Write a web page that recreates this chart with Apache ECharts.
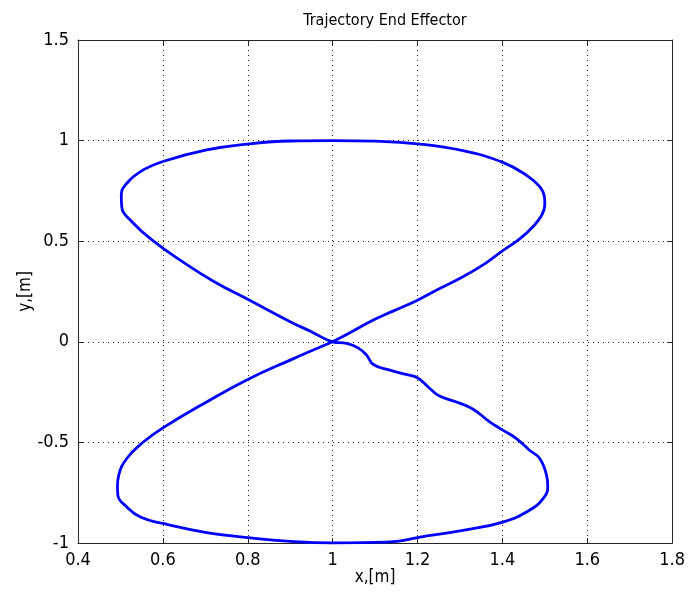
<!DOCTYPE html>
<html>
<head>
<meta charset="utf-8">
<script src="https://cdn.jsdelivr.net/npm/echarts@6/dist/echarts.min.js"></script>
<style>
  html, body { margin: 0; padding: 0; background: #fff; }
  #chart { width: 688px; height: 597px; }
</style>
</head>
<body>
<div id="chart"></div>
<script>
// end effector trajectory.
// starts at the crossing, goes up-right, over the top, down through the crossing,
// along the wavy lower-right part, under the bottom and back up to the crossing
const trajX = [
  1.0, 1.045, 1.096, 1.145, 1.2, 1.25, 1.307, 1.36, 1.401, 1.44, 1.472, 1.493, 1.5, 1.499,
  1.488, 1.456, 1.401, 1.307, 1.2, 1.1, 1.0, 0.9, 0.8, 0.703, 0.6, 0.547, 0.515, 0.502, 0.503,
  0.527, 0.578, 0.645, 0.72, 0.81, 0.9, 0.95, 1.0,
  1.033, 1.06, 1.08, 1.096, 1.135, 1.173, 1.2, 1.229, 1.252, 1.292, 1.331, 1.37, 1.401, 1.433,
  1.464, 1.488, 1.504, 1.507, 1.496, 1.464, 1.401, 1.307, 1.2, 1.151, 1.072, 1.0,
  0.9, 0.8, 0.703, 0.6, 0.547, 0.515, 0.494, 0.493, 0.496, 0.515, 0.554, 0.6, 0.703, 0.8, 0.9, 1.0
]
const trajY = [
  0.0, 0.05, 0.108, 0.155, 0.207, 0.262, 0.323, 0.39, 0.453, 0.51, 0.572, 0.63, 0.68, 0.72,
  0.771, 0.829, 0.892, 0.95, 0.984, 0.997, 1.0, 0.998, 0.983, 0.954, 0.896, 0.846, 0.788, 0.73, 0.672,
  0.597, 0.5, 0.4, 0.3, 0.2, 0.1, 0.05, 0.0,
  -0.008, -0.03, -0.066, -0.113, -0.141, -0.162, -0.179, -0.232, -0.27, -0.299, -0.335, -0.398, -0.439, -0.481,
  -0.539, -0.58, -0.663, -0.721, -0.779, -0.837, -0.896, -0.937, -0.973, -0.992, -0.998, -1.0,
  -0.992, -0.973, -0.948, -0.903, -0.871, -0.821, -0.763, -0.72, -0.663, -0.58, -0.498, -0.428, -0.299, -0.187, -0.091, 0.0
]

const FONT = "'Liberation Sans Narrow', 'DejaVu Sans Condensed', 'Liberation Sans', sans-serif"
const AXIS_COLOR = '#262626'

const chart = echarts.init(document.getElementById('chart'))

const xCommon = {
  type: 'value',
  min: 0.4,
  max: 1.8,
  interval: 0.2,
  axisLine: { show: true, onZero: false, lineStyle: { color: AXIS_COLOR, width: 1 } },
  axisTick: { show: true, inside: true, length: 5, lineStyle: { color: AXIS_COLOR } },
}
const yCommon = {
  type: 'value',
  min: -1,
  max: 1.5,
  interval: 0.5,
  axisLine: { show: true, onZero: false, lineStyle: { color: AXIS_COLOR, width: 1 } },
  axisTick: { show: true, inside: true, length: 5, lineStyle: { color: AXIS_COLOR } },
}
const dotted = { show: true, lineStyle: { color: '#222', width: 1, type: [1, 4] } }

chart.setOption({
  animation: false,
  backgroundColor: '#fff',
  title: {
    text: 'Trajectory End Effector',
    left: 380,
    textAlign: 'center',
    top: 8,
    textStyle: { fontFamily: FONT, fontSize: 16, fontWeight: 'normal', color: '#000' },
  },
  grid: { left: 78, right: 15, top: 40, bottom: 54, show: false },
  xAxis: [
    Object.assign({}, xCommon, {
      position: 'bottom',
      name: 'x,[m]',
      nameLocation: 'middle',
      nameGap: 26,
      nameMoveOverlap: false,
      nameTextStyle: { fontFamily: FONT, fontSize: 17, color: '#000' },
      axisLabel: { fontFamily: FONT, fontSize: 18, color: '#000', margin: 8 },
      splitLine: dotted,
    }),
    Object.assign({}, xCommon, {
      position: 'top',
      axisLabel: { show: false },
      splitLine: { show: false },
    }),
  ],
  yAxis: [
    Object.assign({}, yCommon, {
      position: 'left',
      name: 'y,[m]',
      nameLocation: 'middle',
      nameGap: 44,
      nameMoveOverlap: false,
      nameTextStyle: { fontFamily: FONT, fontSize: 17, color: '#000' },
      axisLabel: { fontFamily: FONT, fontSize: 18, color: '#000', margin: 9 },
      splitLine: dotted,
    }),
    Object.assign({}, yCommon, {
      position: 'right',
      axisLabel: { show: false },
      splitLine: { show: false },
    }),
  ],
  series: [{
    type: 'line',
    data: trajX.map((x, i) => [x, trajY[i]]),
    showSymbol: false,
    smooth: 0.45,
    lineStyle: { color: '#0000ff', width: 2.8 },
    z: 5,
  }],
})
</script>
</body>
</html>
